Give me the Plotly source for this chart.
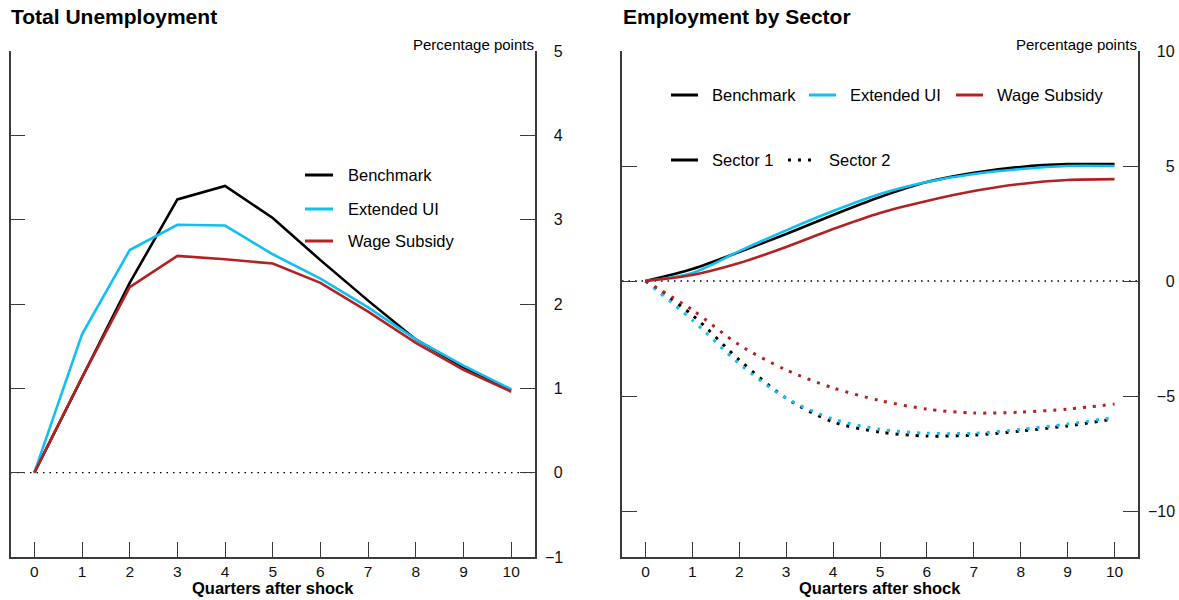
import plotly.graph_objects as go

# Horizontal axis: quarters after the shock
quarters = list(range(11))
x_tick_labels = [str(q) for q in quarters]

# Total unemployment response (percentage points)
unemp_benchmark = [0.0, 1.12, 2.25, 3.24, 3.40, 3.02, 2.52, 2.04, 1.58, 1.25, 0.98]
unemp_extended_ui = [0.0, 1.64, 2.64, 2.94, 2.93, 2.59, 2.30, 1.96, 1.58, 1.27, 0.99]
unemp_wage_subsidy = [0.0, 1.13, 2.20, 2.57, 2.53, 2.48, 2.25, 1.91, 1.54, 1.22, 0.96]

# Employment by sector (percentage points): sector 1
sec1_benchmark = [0.0, 0.52, 1.26, 2.04, 2.87, 3.65, 4.30, 4.70, 4.96, 5.08, 5.08]
sec1_extended_ui = [0.0, 0.35, 1.30, 2.20, 3.04, 3.78, 4.30, 4.65, 4.87, 5.00, 5.00]
sec1_wage_subsidy = [0.0, 0.26, 0.78, 1.48, 2.26, 2.96, 3.48, 3.91, 4.22, 4.39, 4.43]

# Employment by sector (percentage points): sector 2
sec2_benchmark = [0.0, -1.48, -3.43, -5.10, -6.13, -6.57, -6.74, -6.70, -6.52, -6.30, -6.00]
sec2_extended_ui = [0.0, -1.70, -3.60, -5.10, -6.00, -6.45, -6.62, -6.62, -6.45, -6.22, -5.93]
sec2_wage_subsidy = [0.0, -1.26, -2.78, -3.87, -4.65, -5.20, -5.57, -5.74, -5.70, -5.57, -5.35]

left_y_ticks = [-1, 0, 1, 2, 3, 4, 5]
right_y_ticks = [-10, -5, 0, 5, 10]

BLACK = "#000000"
CYAN = "#12BFF2"
RED = "#B22222"
AXIS = "#3a3a3a"
FONT = "Liberation Sans, Arial, sans-serif"
FIG_SPACE = "\u2007"  # digit-width space, used to right-align tick labels

W, H = 1179, 600


def px(x):
    return x / W


def py(y):
    return 1 - y / H


def right_aligned(values, width):
    # pad labels with digit-width spaces so they line up on their right edge
    out = []
    for v in values:
        s = str(abs(v))
        core = ("\u2212" + s) if v < 0 else s
        n_chars = len(s) + (1 if v < 0 else 0)
        out.append(FIG_SPACE * max(0, width - n_chars) + core)
    return out


fig = go.Figure()

# Left panel
for vals, col in [(unemp_benchmark, BLACK), (unemp_extended_ui, CYAN), (unemp_wage_subsidy, RED)]:
    fig.add_trace(go.Scatter(x=quarters, y=vals, mode="lines", xaxis="x", yaxis="y",
                             line=dict(color=col, width=2.6), showlegend=False, hoverinfo="skip"))

# Right panel: sector 1 solid, sector 2 dotted
for vals, col in [(sec1_benchmark, BLACK), (sec1_extended_ui, CYAN), (sec1_wage_subsidy, RED)]:
    fig.add_trace(go.Scatter(x=quarters, y=vals, mode="lines", xaxis="x2", yaxis="y2",
                             line=dict(color=col, width=2.6, shape="spline", smoothing=0.8),
                             showlegend=False, hoverinfo="skip"))
for vals, col in [(sec2_benchmark, BLACK), (sec2_extended_ui, CYAN), (sec2_wage_subsidy, RED)]:
    fig.add_trace(go.Scatter(x=quarters, y=vals, mode="lines", xaxis="x2", yaxis="y2",
                             line=dict(color=col, width=3, dash="3px,7px", shape="spline", smoothing=0.8),
                             showlegend=False, hoverinfo="skip"))

x_common = dict(range=[-0.5, 10.5], tickvals=quarters, ticktext=x_tick_labels,
                ticks="inside", ticklen=15, tickwidth=1.3, tickcolor=AXIS,
                showline=True, linecolor=AXIS, linewidth=1.5, mirror=False,
                showgrid=False, zeroline=False, fixedrange=True, automargin=False,
                tickfont=dict(family=FONT, size=15.5, color="#111"),
                ticklabelstandoff=0)
y_common = dict(side="right", ticks="inside", ticklen=15, tickwidth=1.3, tickcolor=AXIS,
                showline=True, linecolor=AXIS, linewidth=1.5, mirror="ticks",
                showgrid=False, zeroline=False, fixedrange=True, automargin=False,
                tickfont=dict(family=FONT, size=16, color="#111"),
                ticklabelstandoff=5)

fig.update_layout(
    width=W, height=H,
    margin=dict(l=0, r=0, t=0, b=0, autoexpand=False),
    paper_bgcolor="white", plot_bgcolor="white",
    font=dict(family=FONT, color="#111"),
    xaxis=dict(domain=[px(10.5), px(535)], anchor="y", **x_common),
    yaxis=dict(domain=[py(557), py(51)], anchor="x", range=[-1, 5], tickvals=left_y_ticks,
               ticktext=right_aligned(left_y_ticks, 2), **y_common),
    xaxis2=dict(domain=[px(622), px(1138)], anchor="y2", **x_common),
    yaxis2=dict(domain=[py(557), py(51)], anchor="x2", range=[-12, 10], tickvals=right_y_ticks,
                ticktext=right_aligned(right_y_ticks, 3), **y_common),
)

# Dotted zero reference lines
for xr, yr in [("x domain", "y"), ("x2 domain", "y2")]:
    fig.add_shape(type="line", xref=xr, yref=yr, x0=0, x1=1, y0=0, y1=0,
                  line=dict(color="#000", width=1.4, dash="1.5px,5px"), layer="below")

annotations = []


def text(x, y, s, size, bold=False, anchor="left"):
    annotations.append(dict(x=px(x), y=py(y), xref="paper", yref="paper", text=f"<b>{s}</b>" if bold else s,
                            showarrow=False, xanchor=anchor, yanchor="middle",
                            font=dict(family=FONT, size=size, color="#000")))


def swatch(x0, x1, y, col, dash="solid", width=3):
    fig.add_shape(type="line", xref="paper", yref="paper", x0=px(x0), x1=px(x1), y0=py(y), y1=py(y),
                  line=dict(color=col, width=width, dash=dash))


# Panel titles
text(9, 17, "Total Unemployment", 21, bold=True)
text(621, 17, "Employment by Sector", 21, bold=True)

# Unit labels
text(536, 44, "Percentage points", 15, anchor="right")
text(1139, 44, "Percentage points", 15, anchor="right")

# Axis titles
text(273, 588, "Quarters after shock", 16.5, bold=True, anchor="center")
text(880, 588, "Quarters after shock", 16.5, bold=True, anchor="center")

# Left legend
for y, col, lab in [(175, BLACK, "Benchmark"), (209, CYAN, "Extended UI"), (241, RED, "Wage Subsidy")]:
    swatch(305, 333, y, col)
    text(346, y, lab, 16.5)

# Right legend, row 1: policies
for x0, col, lab in [(671, BLACK, "Benchmark"), (809, CYAN, "Extended UI"), (956, RED, "Wage Subsidy")]:
    swatch(x0, x0 + 27, 95, col)
    text(x0 + 39, 95, lab, 16.5)

# Right legend, row 2: sectors
swatch(671, 698, 160, BLACK)
text(710, 160, "Sector 1", 16.5)
swatch(788, 816, 160, BLACK, dash="3px,7px", width=3)
text(827, 160, "Sector 2", 16.5)

fig.update_layout(annotations=annotations)

fig.write_html("out.html")
